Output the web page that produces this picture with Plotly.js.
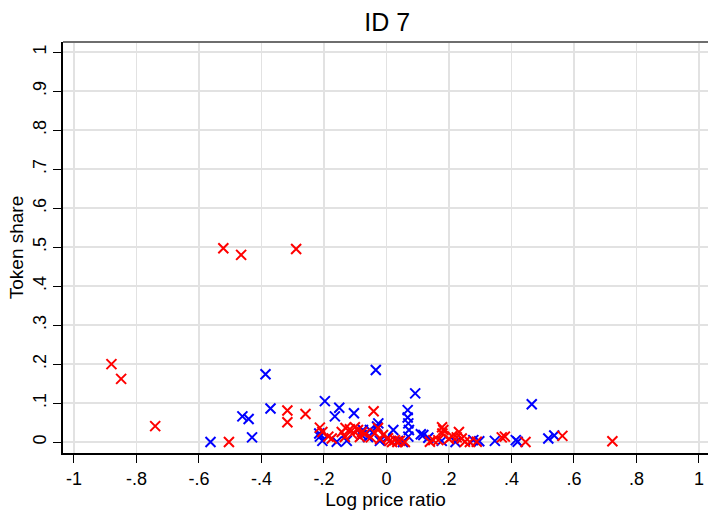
<!DOCTYPE html>
<html>
<head>
<meta charset="utf-8">
<script src="https://cdn.plot.ly/plotly-3.0.1.min.js"></script>
<style>html,body{margin:0;padding:0;background:#fff;}#chart{width:708px;height:510px;}</style>
</head>
<body>
<div id="chart"></div>
<script>
// Red series: log price ratio (x) and token share (y)
const redX = [-0.880,-0.849,-0.740,-0.504,-0.522,-0.465,-0.289,-0.317,-0.317,-0.259,-0.041,-0.213,-0.205,-0.186,-0.175,-0.143,-0.131,-0.117,-0.101,-0.091,-0.078,-0.069,-0.110,-0.133,-0.085,-0.027,-0.037,-0.011,0.005,0.027,0.043,0.059,0.018,-0.050,-0.020,0.010,0.035,0.139,0.150,0.166,0.179,0.182,0.178,0.225,0.232,0.241,0.251,0.267,0.289,0.369,0.379,0.445,0.563,0.723,0.200,0.210];
const redY = [0.200,0.162,0.041,0.000,0.497,0.480,0.495,0.081,0.051,0.072,0.079,0.037,0.026,0.014,0.009,0.026,0.036,0.033,0.038,0.031,0.026,0.021,0.021,0.013,0.013,0.036,0.023,0.018,0.010,0.005,0.003,0.000,0.000,0.012,0.008,0.003,0.000,0.001,0.005,0.005,0.022,0.031,0.038,0.012,0.026,0.009,0.001,0.000,0.001,0.012,0.014,0.000,0.016,0.002,0.008,0.015];
// Blue series
const blueX = [-0.563,-0.461,-0.441,-0.430,-0.387,-0.371,-0.034,0.092,-0.197,-0.151,-0.165,-0.104,0.068,0.068,0.070,0.072,0.070,0.465,0.414,0.420,0.518,0.537,0.347,0.278,0.297,0.221,0.177,0.118,0.134,0.022,-0.026,-0.053,-0.059,-0.021,0.037,0.053,-0.213,-0.205,-0.159,-0.127,-0.079,-0.075,-0.215,-0.030,0.000,0.110];
const blueY = [0.000,0.066,0.059,0.012,0.174,0.086,0.185,0.125,0.105,0.088,0.066,0.074,0.082,0.063,0.048,0.031,0.014,0.097,0.005,0.001,0.009,0.017,0.003,0.005,0.002,0.000,0.003,0.018,0.011,0.031,0.048,0.031,0.013,0.003,0.003,0.000,0.014,0.003,0.001,0.003,0.018,0.031,0.022,0.040,0.010,0.020];
// Tick labels
const xTickVals = [-1,-0.8,-0.6,-0.4,-0.2,0,0.2,0.4,0.6,0.8,1];
const xTickText = ["-1","-.8","-.6","-.4","-.2","0",".2",".4",".6",".8","1"];
const yTickVals = [0,0.1,0.2,0.3,0.4,0.5,0.6,0.7,0.8,0.9,1];
const yTickText = ["0",".1",".2",".3",".4",".5",".6",".7",".8",".9","1"];

const font = "Liberation Sans, Arial, sans-serif";
const mk = (c) => ({symbol: "x-thin", size: 10, color: c, line: {color: c, width: 2}});

const traces = [
  {x: blueX, y: blueY, type: "scatter", mode: "markers", marker: mk("#0000ff"), showlegend: false},
  {x: redX, y: redY, type: "scatter", mode: "markers", marker: mk("#ff0000"), showlegend: false}
];

const layout = {
  width: 708, height: 510,
  paper_bgcolor: "#ffffff", plot_bgcolor: "#ffffff",
  margin: {l: 63, r: 0, t: 42, b: 57},
  font: {family: font, color: "#000"},
  title: {text: "ID 7", font: {family: font, size: 25, color: "#000"}, x: 0.547, xref: "container", xanchor: "center", y: 0.956, yref: "container", yanchor: "middle"},
  xaxis: {
    range: [-1.035, 1.029], tickmode: "array", tickvals: xTickVals, ticktext: xTickText,
    showgrid: true, gridcolor: "#e2e2e2", gridwidth: 1.5, zeroline: false,
    showline: true, linecolor: "#000", linewidth: 2,
    ticks: "outside", ticklen: 8, tickwidth: 1, tickcolor: "#000",
    tickfont: {family: font, size: 18, color: "#000"},
    title: {text: "Log price ratio", font: {family: font, size: 19, color: "#000"}, standoff: 7}
  },
  yaxis: {
    range: [-0.028, 1.026], tickmode: "array", tickvals: yTickVals, ticktext: yTickText,
    showgrid: true, gridcolor: "#e2e2e2", gridwidth: 1.5, zeroline: false,
    showline: true, linecolor: "#000", linewidth: 2,
    ticks: "outside", ticklen: 8, tickwidth: 1, tickcolor: "#000",
    tickangle: -90,
    tickfont: {family: font, size: 18, color: "#000"},
    title: {text: "Token share", font: {family: font, size: 19, color: "#000"}, standoff: 1}
  },
  shapes: [{type: "line", xref: "paper", yref: "paper", x0: 0, x1: 1, y0: 1, y1: 1, line: {color: "#6e6e6e", width: 2}}]
};

Plotly.newPlot("chart", traces, layout, {staticPlot: true, displayModeBar: false});
</script>
</body>
</html>
